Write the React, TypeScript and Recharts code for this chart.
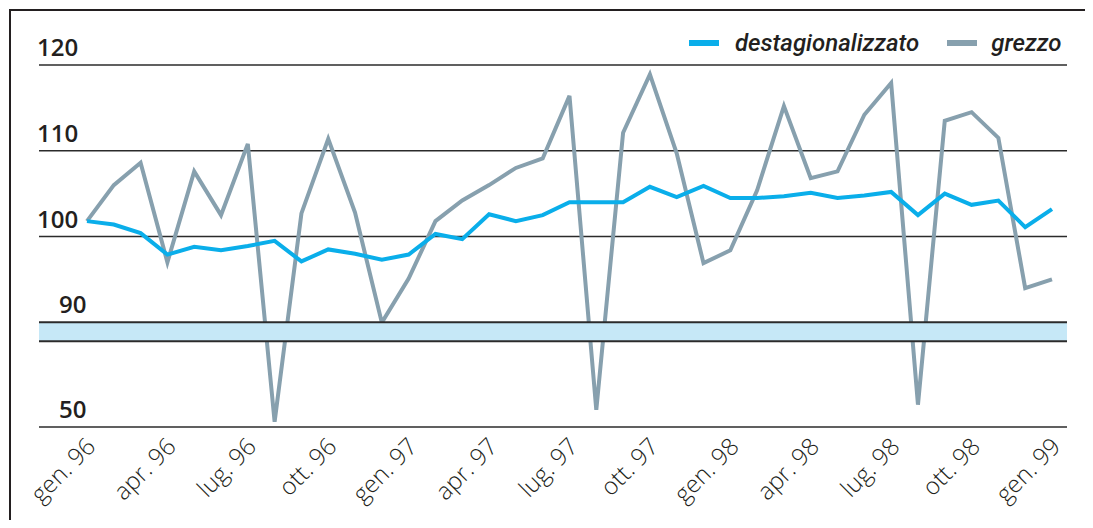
import React from 'react';
import { LineChart, Line, XAxis, YAxis, ReferenceLine, ReferenceArea } from 'recharts';

const categories = [
  'gen. 96', 'feb. 96', 'mar. 96', 'apr. 96', 'mag. 96', 'giu. 96', 'lug. 96', 'ago. 96', 'set. 96', 'ott. 96', 'nov. 96', 'dic. 96',
  'gen. 97', 'feb. 97', 'mar. 97', 'apr. 97', 'mag. 97', 'giu. 97', 'lug. 97', 'ago. 97', 'set. 97', 'ott. 97', 'nov. 97', 'dic. 97',
  'gen. 98', 'feb. 98', 'mar. 98', 'apr. 98', 'mag. 98', 'giu. 98', 'lug. 98', 'ago. 98', 'set. 98', 'ott. 98', 'nov. 98', 'dic. 98',
  'gen. 99',
];

const destagionalizzato = [
  101.8, 101.4, 100.4, 97.9, 98.8, 98.4, 98.9, 99.5, 97.1, 98.5, 98.0, 97.3,
  97.9, 100.3, 99.7, 102.6, 101.8, 102.5, 104.0, 104.0, 104.0, 105.8, 104.6, 105.9,
  104.5, 104.5, 104.7, 105.1, 104.5, 104.8, 105.2, 102.5, 105.0, 103.7, 104.2, 101.1,
  103.2,
];

const grezzo = [
  101.8, 106.0, 108.6, 97.0, 107.6, 102.5, 110.8, 50.6, 102.7, 111.4, 102.8, 89.5,
  95.1, 101.8, 104.2, 106.0, 108.0, 109.1, 116.4, 52.0, 112.1, 118.9, 109.7, 96.9,
  98.4, 105.4, 115.2, 106.8, 107.6, 114.2, 117.9, 52.6, 113.5, 114.5, 111.5, 94.0,
  95.0,
];

const xTickIndexes = [0, 3, 6, 9, 12, 15, 18, 21, 24, 27, 30, 33, 36];

const seriesNames = ['destagionalizzato', 'grezzo'];
const seriesColors = ['#0aaeea', '#87a0ae'];

// broken axis: upper segment 90..120, lower segment 50..60, break drawn as a band
const upperTicks = [120, 110, 100, 90];
const lowerTicks = [50];
const BREAK_TOP = 90;
const BREAK_BOTTOM = 60;
const BAND = 2.2; // band height in value units

const toT = (v: number) => {
  if (v >= BREAK_TOP) return v;
  if (v <= BREAK_BOTTOM) return v + (BREAK_TOP - BREAK_BOTTOM) - BAND;
  return BREAK_TOP - ((BREAK_TOP - v) / (BREAK_TOP - BREAK_BOTTOM)) * BAND;
};
const fromT = (t: number) => (t >= BREAK_TOP - 0.001 ? t : Math.round(t - (BREAK_TOP - BREAK_BOTTOM) + BAND));

const data = categories.map((c, i) => ({
  idx: i,
  label: c,
  destagionalizzato: toT(destagionalizzato[i]),
  grezzo: toT(grezzo[i]),
}));

const yTicks = [...upperTicks.map(toT), ...lowerTicks.map(toT)];
const bandTop = toT(BREAK_TOP);
const bandBottom = toT(BREAK_BOTTOM);
const yMin = toT(lowerTicks[0]);
const yMax = upperTicks[0];
const xDomain = [-1.79, categories.length - 1 + 0.56];

const YTick = (props: any) => {
  const { x, y, payload } = props;
  const label = String(fromT(payload.value));
  const dx = label.length >= 3 ? -2 : 20;
  return (
    <text x={x + dx} y={y - 9} textAnchor="start" fill="#231f20"
      style={{ fontFamily: '"Open Sans", sans-serif', fontWeight: 600, fontSize: 24 }}>
      {label}
    </text>
  );
};

const XTick = (props: any) => {
  const { x, y, payload } = props;
  return (
    <text transform={`translate(${x + 10}, ${y + 21}) rotate(-45)`} textAnchor="end" fill="#231f20"
      style={{ fontFamily: '"Open Sans", sans-serif', fontWeight: 300, fontSize: 24 }}>
      {categories[payload.value]}
    </text>
  );
};

const gridColor = '#2b2b2b';

export default function App() {
  return (
    <div style={{ position: 'relative', marginLeft: 1, marginTop: 1, marginBottom: -8, width: 1084, height: 519,
      boxSizing: 'border-box', borderTop: '2px solid #231f20', borderLeft: '2px solid #231f20', overflow: 'hidden', background: '#fff' }}>
      <LineChart width={1082} height={517} data={data} margin={{ top: 54, right: 26, bottom: 0, left: 0 }}>
        <XAxis dataKey="idx" type="number" domain={xDomain} ticks={xTickIndexes} interval={0} tickLine={false}
          axisLine={false} tickSize={0} tickMargin={0} height={101} tick={<XTick />} allowDataOverflow />
        <YAxis type="number" domain={[yMin, yMax]} ticks={yTicks} width={28} tickLine={false} axisLine={false}
          tickSize={0} tickMargin={0} tick={<YTick />} allowDataOverflow interval={0} />
        {[...upperTicks.filter((v) => v !== BREAK_TOP), ...lowerTicks].map((v) => (
          <ReferenceLine key={v} y={toT(v)} stroke={gridColor} strokeWidth={1.6} zIndex={50} />
        ))}
        <Line type="linear" dataKey="grezzo" name={seriesNames[1]} stroke={seriesColors[1]} strokeWidth={4}
          dot={false} isAnimationActive={false} strokeLinejoin="miter" />
        <Line type="linear" dataKey="destagionalizzato" name={seriesNames[0]} stroke={seriesColors[0]} strokeWidth={4}
          dot={false} isAnimationActive={false} />
        <ReferenceArea y1={bandBottom} y2={bandTop} fill="#c6e8f7" fillOpacity={1} stroke="none" zIndex={450} />
        <ReferenceLine y={bandTop} stroke={gridColor} strokeWidth={2} zIndex={460} />
        <ReferenceLine y={bandBottom} stroke={gridColor} strokeWidth={2} zIndex={460} />
      </LineChart>
      <div style={{ position: 'absolute', left: 678, top: 18, display: 'flex', alignItems: 'center',
        fontFamily: 'Roboto, sans-serif', fontStyle: 'italic', fontWeight: 500, fontSize: 24, color: '#231f20', whiteSpace: 'nowrap' }}>
        <span style={{ display: 'inline-block', width: 30, height: 6, background: seriesColors[0] }} />
        <span style={{ display: 'inline-block', marginLeft: 16 }}>{seriesNames[0]}</span>
        <span style={{ display: 'inline-block', marginLeft: 28, width: 30, height: 6, background: seriesColors[1] }} />
        <span style={{ display: 'inline-block', marginLeft: 14 }}>{seriesNames[1]}</span>
      </div>
    </div>
  );
}
